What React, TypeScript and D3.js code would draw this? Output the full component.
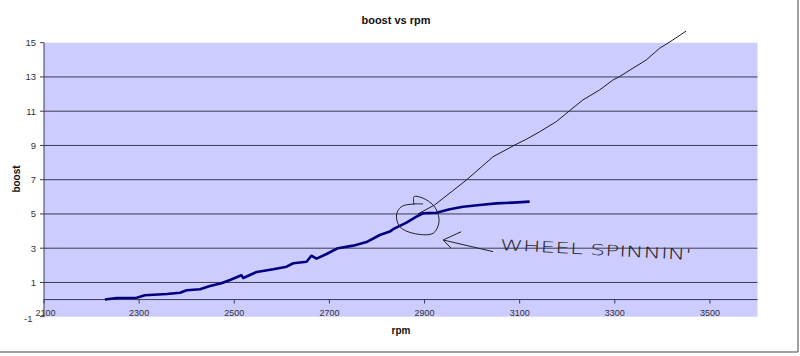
import React from "react";
import * as d3 from "d3";

// Measured boost curve (thick navy line)
const rpmMeasured = [2228, 2253, 2295, 2312, 2358, 2386, 2400, 2428, 2449, 2473, 2491, 2515, 2519, 2547, 2582, 2610, 2624, 2652, 2662, 2673, 2694, 2718, 2750, 2778, 2806, 2827, 2834, 2862, 2883, 2897, 2925, 2953, 2981, 3016, 3051, 3086, 3121];
const boostMeasured = [0, 0.09, 0.11, 0.25, 0.33, 0.4, 0.54, 0.6, 0.79, 0.95, 1.14, 1.42, 1.26, 1.61, 1.77, 1.92, 2.12, 2.21, 2.56, 2.39, 2.66, 3.0, 3.15, 3.36, 3.77, 3.97, 4.11, 4.49, 4.84, 5.04, 5.07, 5.27, 5.42, 5.52, 5.62, 5.66, 5.72];

// Hand-drawn projection (thin black line)
const rpmProjected = [2886, 2921, 2988, 3044, 3090, 3114, 3142, 3177, 3205, 3233, 3268, 3296, 3310, 3338, 3366, 3394, 3422, 3450];
const boostProjected = [5.0, 5.52, 6.98, 8.34, 9.03, 9.36, 9.8, 10.39, 11.03, 11.66, 12.24, 12.82, 13.02, 13.51, 13.99, 14.67, 15.16, 15.68];

// Hand-drawn circle annotation (rpm, boost)
const circleRpm = [2878, 2878, 2897, 2918, 2928, 2930, 2918, 2876, 2848, 2841, 2851, 2876, 2897];
const circleBoost = [5.52, 6.01, 5.92, 5.52, 5.04, 4.46, 3.87, 3.87, 4.26, 4.94, 5.42, 5.58, 5.58];

// Hand-drawn arrow (rpm, boost): shaft end, tip, wings
const arrowShaft = [[3044, 2.8], [2939, 3.48]];
const arrowHead = [[2977, 3.96], [2939, 3.48], [2956, 3.0]];
const noteAnchor = [3058, 2.9];
const noteText = "WHEEL SPINNIN'";

const xTicks = [2100, 2300, 2500, 2700, 2900, 3100, 3300, 3500];
const yTicks = [-1, 1, 3, 5, 7, 9, 11, 13, 15];
const gridValues = [1, 3, 5, 7, 9, 11, 13];

const title = "boost vs rpm";
const xTitle = "rpm";
const yTitle = "boost";

export default function App() {
  const W = 800, H = 356;
  const x = d3.scaleLinear().domain([2100, 3600]).range([44, 757.5]);
  const y = d3.scaleLinear().domain([-1, 15]).range([316.7, 42.7]);

  const line = d3.line<[number, number]>().x(d => x(d[0])).y(d => y(d[1]));
  const measured = rpmMeasured.map((r, i) => [r, boostMeasured[i]] as [number, number]);
  const projected = rpmProjected.map((r, i) => [r, boostProjected[i]] as [number, number]);
  const circle = circleRpm.map((r, i) => [r, circleBoost[i]] as [number, number]);
  const circlePath = d3.line<[number, number]>().x(d => x(d[0])).y(d => y(d[1])).curve(d3.curveCatmullRom)(circle) || "";

  const font = "Liberation Sans, Arial, sans-serif";
  const axisColor = "#3a3a55";
  const y0 = y(0);

  return (
    <svg width={W} height={H} style={{ position: "absolute", left: 0, top: 0, background: "#fff" }} fontFamily={font}>
      <rect x={0} y={0} width={W} height={H} fill="#fff" />
      {/* plot area */}
      <rect x={x(2100)} y={y(15)} width={x(3600) - x(2100)} height={y(-1) - y(15)} fill="#CCCCFF" />
      {gridValues.map(v => (
        <line key={v} x1={x(2100)} x2={x(3600)} y1={y(v)} y2={y(v)} stroke={axisColor} strokeWidth={1} />
      ))}
      {/* y axis */}
      <line x1={x(2100)} x2={x(2100)} y1={y(15)} y2={y(-1)} stroke={axisColor} strokeWidth={1} />
      {yTicks.map(v => (
        <g key={v}>
          <line x1={x(2100) - 4} x2={x(2100)} y1={y(v)} y2={y(v)} stroke={axisColor} />
          <text x={v === -1 ? 32.5 : 36} y={y(v) + (v === -1 ? 5 : 3.5)} textAnchor="end" fontSize={9.5} fill="#333">{v}</text>
        </g>
      ))}
      {/* x axis at 0 */}
      <line x1={x(2100)} x2={x(3600)} y1={y0} y2={y0} stroke={axisColor} strokeWidth={1} />
      {xTicks.map(v => (
        <g key={v}>
          <line x1={x(v)} x2={x(v)} y1={y0} y2={y0 + 4} stroke={axisColor} />
          <text x={x(v) + (v === 2100 ? 1.5 : 0)} y={316} textAnchor="middle" fontSize={9} fill="#333">{v}</text>
        </g>
      ))}
      {/* series */}
      <path d={line(projected) || ""} fill="none" stroke="#1a1a2a" strokeWidth={1} />
      <path d={line(measured) || ""} fill="none" stroke="#000080" strokeWidth={2.6} strokeLinejoin="round" />
      {/* annotations */}
      <path d={circlePath} fill="none" stroke="#222" strokeWidth={1} />
      <path d={line(arrowShaft as [number, number][]) || ""} fill="none" stroke="#222" strokeWidth={1} />
      <path d={line(arrowHead as [number, number][]) || ""} fill="none" stroke="#222" strokeWidth={1} />
      <text
        x={x(noteAnchor[0])}
        y={y(noteAnchor[1])}
        fontSize={15}
        fontFamily="DejaVu Sans, sans-serif"
        fontWeight={200}
        fill="#222"
        textLength={192}
        lengthAdjust="spacingAndGlyphs"
        transform={`rotate(3 ${x(noteAnchor[0])} ${y(noteAnchor[1])})`}
      >{noteText}</text>
      {/* titles */}
      <text x={396} y={24} textAnchor="middle" fontSize={11} fontWeight="bold" fill="#111">{title}</text>
      <text x={401} y={334} textAnchor="middle" fontSize={10} fontWeight="bold" fill="#111">{xTitle}</text>
      <text transform="translate(20,179) rotate(-90)" textAnchor="middle" fontSize={10} fontWeight="bold" fill="#111">{yTitle}</text>
      {/* frame */}
      <line x1={0} x2={798} y1={352} y2={352} stroke="#808080" strokeWidth={1.5} />
      <line x1={798} x2={798} y1={0} y2={352} stroke="#808080" strokeWidth={1.5} />
    </svg>
  );
}
